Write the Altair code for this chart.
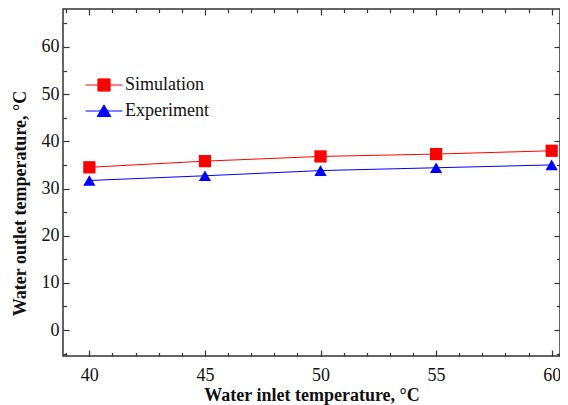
import altair as alt
import pandas as pd

# ---- data ----
inlet = [40, 45, 50, 55, 60]
simulation = [34.5, 35.8, 36.8, 37.3, 38.0]
experiment = [31.7, 32.7, 33.8, 34.4, 35.0]
series_names = ["Simulation", "Experiment"]
series_colors = ["#ff0000", "#0000ff"]
x_major = [40, 45, 50, 55, 60]
x_minor = [39, 41, 42, 43, 44, 46, 47, 48, 49, 51, 52, 53, 54, 56, 57, 58, 59]
y_major = [0, 10, 20, 30, 40, 50, 60]
y_minor = [-5, 5, 15, 25, 35, 45, 55, 65]
x_domain = [38.86, 60.36]
y_domain = [-5.5, 68.05]

df = pd.DataFrame({
    "inlet": inlet * 2,
    "outlet": simulation + experiment,
    "series": [series_names[0]] * len(inlet) + [series_names[1]] * len(inlet),
})

W, H = 497, 347
FONT = "Liberation Serif"
AX = "#333333"
TXT = "#111111"
MAJ = 6
MIN = 3.5

xs = alt.Scale(domain=x_domain, nice=False, zero=False)
ys = alt.Scale(domain=y_domain, nice=False, zero=False)

sim_path = "M-1,0H1M-0.33,-0.33H0.33V0.33H-0.33Z"
exp_path = "M-1,0H1M0,-0.33L0.37,0.3H-0.37Z"
leg_paths = [sim_path, exp_path]
leg_tops = [57, 83]

main_x = alt.Axis(orient="bottom", values=x_major, title="Water inlet temperature, °C",
                  ticks=False, tickSize=0, domain=False, labelPadding=10, grid=False,
                  titleY=44, titleBaseline="alphabetic",
                  labelFont=FONT, labelFontSize=18, labelColor=TXT,
                  titleFont=FONT, titleFontSize=18, titleFontWeight="bold", titleColor=TXT)
main_y = alt.Axis(orient="left", values=y_major, title="Water outlet temperature, °C",
                  ticks=False, tickSize=0, domain=False, labelPadding=4, grid=False,
                  titleX=-38, titleY=194, titleAngle=270, titleBaseline="alphabetic", titleAlign="center",
                  labelFont=FONT, labelFontSize=18, labelColor=TXT,
                  titleFont=FONT, titleFontSize=18, titleFontWeight="bold", titleColor=TXT)


def series_line(i):
    name = series_names[i]
    leg = alt.Legend(orient="none", legendX=22, legendY=leg_tops[i], title=None,
                     symbolType=leg_paths[i], symbolSize=1369, symbolStrokeWidth=1,
                     symbolFillColor=series_colors[i], symbolStrokeColor=series_colors[i],
                     symbolOpacity=1, labelOffset=2, padding=0,
                     labelFont=FONT, labelFontSize=18, labelColor=TXT)
    return alt.Chart(df).transform_filter(alt.datum.series == name).mark_line(strokeWidth=1).encode(
        x=alt.X("inlet:Q", scale=xs, axis=main_x if i == 0 else None),
        y=alt.Y("outlet:Q", scale=ys, axis=main_y if i == 0 else None),
        color=alt.Color("series:N", scale=alt.Scale(domain=[name], range=[series_colors[i]]), legend=leg),
    )


points = alt.Chart(df).mark_point(filled=True, size=150, opacity=1).encode(
    x=alt.X("inlet:Q", scale=xs, axis=None),
    y=alt.Y("outlet:Q", scale=ys, axis=None),
    color=alt.Color("series:N", scale=alt.Scale(domain=series_names, range=series_colors), legend=None),
    shape=alt.Shape("series:N", scale=alt.Scale(domain=series_names, range=["square", "triangle-up"]),
                    legend=None),
)


def tick_axis(orient, values, size, offset):
    return alt.Axis(orient=orient, values=values, title=None, labels=False, tickSize=size,
                    offset=offset, grid=False, domain=False, tickColor=AX, tickWidth=1.2)


def ghost(xaxis, yaxis):
    return alt.Chart(df).mark_point(opacity=0).encode(
        x=alt.X("inlet:Q", scale=xs, axis=xaxis),
        y=alt.Y("outlet:Q", scale=ys, axis=yaxis),
    )


# inward ticks: an axis of the opposite orientation moved onto the frame edge
bl_major = ghost(tick_axis("top", x_major, MAJ, -H), tick_axis("right", y_major, MAJ, -W))
bl_minor = ghost(tick_axis("top", x_minor, MIN, -H), tick_axis("right", y_minor, MIN, -W))
tr_major = ghost(tick_axis("bottom", x_major, MAJ, -H), tick_axis("left", y_major, MAJ, -W))
tr_minor = ghost(tick_axis("bottom", x_minor, MIN, -H), tick_axis("left", y_minor, MIN, -W))

chart = alt.layer(
    series_line(0), series_line(1), points, bl_major, bl_minor, tr_major, tr_minor
).resolve_axis(
    x="independent", y="independent"
).resolve_scale(
    color="independent"
).properties(
    width=W, height=H,
    autosize=alt.AutoSizeParams(type="none"),
    padding={"left": 55, "top": 1, "right": 0, "bottom": 49},
).configure_view(stroke=AX, strokeWidth=1.5)

chart.save("out.html", embed_options={"renderer": "svg", "actions": False})
